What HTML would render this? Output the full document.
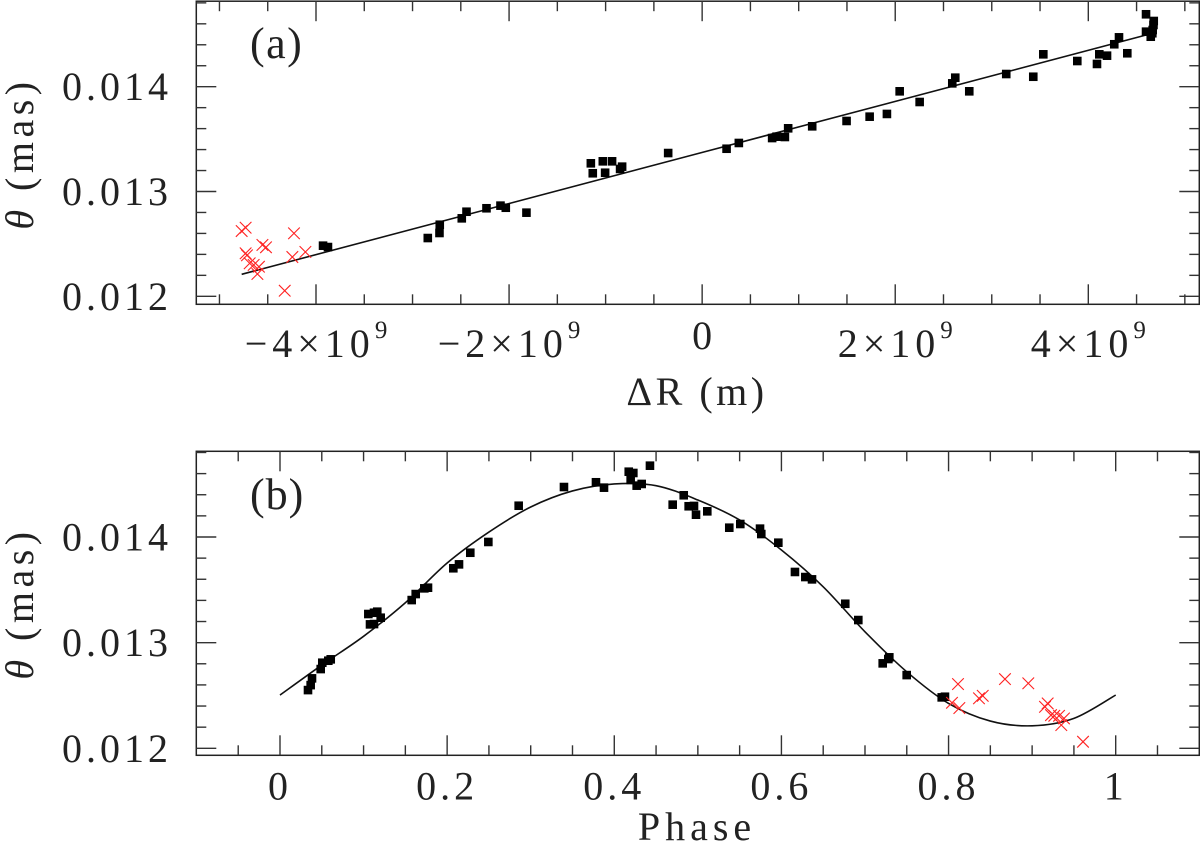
<!DOCTYPE html>
<html>
<head>
<meta charset="utf-8">
<title>Angular diameter vs radius and phase</title>
<style>
html,body{margin:0;padding:0;background:#fff;width:1200px;height:842px;overflow:hidden}
svg{display:block}
text{font-family:"Liberation Serif",serif;fill:#222}
</style>
</head>
<body>
<svg id="chart" xmlns="http://www.w3.org/2000/svg" width="1200" height="842" viewBox="0 0 1200 842">
<rect x="0" y="0" width="1200" height="842" fill="#fff"/>
<g id="panel-a"></g>
<g id="panel-b"></g>
<text x="250" y="58" font-size="44" letter-spacing="1.5">(a)</text>
<text x="250" y="509" font-size="44" letter-spacing="1">(b)</text>
<text transform="translate(33,153.5) rotate(-90)" text-anchor="middle" font-size="40" letter-spacing="4.5"><tspan font-style="italic">θ</tspan> (mas)</text>
<text transform="translate(33,603.5) rotate(-90)" text-anchor="middle" font-size="40" letter-spacing="4.5"><tspan font-style="italic">θ</tspan> (mas)</text>
<text x="697" y="405" text-anchor="middle" font-size="40" letter-spacing="3.5">ΔR (m)</text>
<text x="697" y="840" text-anchor="middle" font-size="40" letter-spacing="5">Phase</text>
</svg>
<script>
// Panel (a): radius offset in units of 1e9 m, theta in mas
const radiusGood = [-3.927,-3.876,-2.842,-2.718,-2.721,-2.490,-2.441,-2.234,-2.089,-2.034,-1.820,-1.153,-1.133,-1.029,-1.005,-0.933,-0.829,-0.850,-0.352,0.253,0.380,0.725,0.771,0.857,0.891,1.140,1.496,1.735,1.914,2.046,2.253,2.591,2.622,2.767,3.150,3.430,3.534,3.886,4.090,4.114,4.194,4.269,4.318,4.404,4.598,4.678,4.667,4.598,4.647,4.663,4.675];
const thetaGoodA = [0.012483,0.012470,0.012556,0.012683,0.012604,0.012744,0.012807,0.012840,0.012865,0.012845,0.012798,0.013269,0.013174,0.013288,0.013179,0.013288,0.013237,0.013215,0.013367,0.013408,0.013463,0.013510,0.013523,0.013520,0.013603,0.013622,0.013673,0.013714,0.013740,0.013956,0.013854,0.014032,0.014086,0.013956,0.014121,0.014095,0.014309,0.014245,0.014217,0.014309,0.014296,0.014405,0.014471,0.014319,0.014691,0.014627,0.014541,0.014525,0.014477,0.014510,0.014589];
const radiusOut = [-4.770,-4.729,-4.729,-4.715,-4.687,-4.646,-4.591,-4.607,-4.555,-4.518,-4.228,-4.245,-4.110,-4.324];
const thetaOutA = [0.012623,0.012655,0.012410,0.012391,0.012315,0.012299,0.012282,0.012213,0.012490,0.012468,0.012601,0.012375,0.012423,0.012053];
const fitRadius = [-4.77,4.598];
const fitThetaA = [0.01221,0.014493];
const xMajorA = [-4,-2,0,2,4];
const xLabelsA = ['−4×10','−2×10','0','2×10','4×10'];
const xExpA = ['9','9','','9','9'];
const yMajor = [0.012,0.013,0.014];
const yLabels = ['0.012','0.013','0.014'];

// Panel (b): phase vs theta in mas
const phaseGood = [0.0335,0.0367,0.0383,0.0487,0.0506,0.0578,0.0607,0.1057,0.1077,0.1125,0.1125,0.1164,0.1205,0.1576,0.1624,0.1727,0.1771,0.2074,0.2142,0.2277,0.2493,0.2856,0.3398,0.3781,0.3877,0.4173,0.4228,0.4196,0.4268,0.4328,0.4427,0.4699,0.4831,0.4890,0.4954,0.4978,0.5113,0.5376,0.5508,0.5744,0.5759,0.5963,0.6162,0.6286,0.6366,0.6764,0.6920,0.7212,0.7279,0.7291,0.7499,0.7918,0.7957];
const thetaGoodB = [0.012551,0.012598,0.012662,0.012750,0.012810,0.012829,0.012842,0.013271,0.013173,0.013283,0.013176,0.013293,0.013236,0.013403,0.013460,0.013514,0.013520,0.013704,0.013741,0.013851,0.013953,0.014296,0.014473,0.014518,0.014467,0.014618,0.014606,0.014540,0.014486,0.014502,0.014675,0.014306,0.014395,0.014291,0.014294,0.014211,0.014243,0.014088,0.014123,0.014079,0.014028,0.013946,0.013669,0.013621,0.013599,0.013368,0.013214,0.012804,0.012845,0.012861,0.012693,0.012482,0.012488];
const phaseOut = [0.8113,0.8041,0.8129,0.8364,0.8409,0.8675,0.8954,0.9154,0.9186,0.9226,0.9265,0.9322,0.9381,0.9349,0.9609];
const thetaOutB = [0.012608,0.012431,0.012381,0.012473,0.012497,0.012655,0.012615,0.012393,0.012425,0.012314,0.012308,0.012308,0.012283,0.012220,0.012062];
const fitPhase = [0,0.05,0.1,0.15,0.2,0.25,0.3,0.35,0.4,0.45,0.5,0.55,0.6,0.65,0.7,0.75,0.8,0.85,0.9,0.95,1];
const fitThetaB = [0.012504,0.012788,0.013060,0.013378,0.013754,0.014047,0.014284,0.014436,0.014502,0.014486,0.014350,0.014161,0.013877,0.013529,0.013103,0.012724,0.012425,0.012258,0.012213,0.012283,0.012504];
const xMajorB = [0,0.2,0.4,0.6,0.8,1];
const xLabelsB = ['0','0.2','0.4','0.6','0.8','1'];

const NS = 'http://www.w3.org/2000/svg';
const INK = '#222';
const make = (tag) => document.createElementNS(NS, tag);
const linear = (d0, d1, r0, r1) => (v) => r0 + (v - d0) * (r1 - r0) / (d1 - d0);

const boxA = {left: 196.3, right: 1199.3, top: 1.2, bottom: 304.3};
const boxB = {left: 196.3, right: 1199.3, top: 451.3, bottom: 755.3};
const sxA = linear(-4, 4, 316, 1088.3);
const syA = linear(0.012, 0.014, 296.3, 86.7);
const sxB = linear(0, 1, 280, 1115.7);
const syB = linear(0.012, 0.014, 748.3, 537);

function drawFrame(layer, box) {
  const el = make('rect');
  
  
  el.setAttribute('x', box.left);
  el.setAttribute('y', box.top);
  el.setAttribute('width', box.right - box.left);
  el.setAttribute('height', box.bottom - box.top);
  el.setAttribute('fill', 'none');
  el.setAttribute('stroke', INK);
  el.setAttribute('stroke-width', '1.5');
  layer.appendChild(el);
}

function drawXTick(layer, box, x, len) {
  [[box.bottom, box.bottom - len], [box.top, box.top + len]].forEach(([a, b]) => {
    const el = make('line');
    
    
    el.setAttribute('x1', x);
    el.setAttribute('x2', x);
    el.setAttribute('y1', a);
    el.setAttribute('y2', b);
    el.setAttribute('stroke', '#333');
    el.setAttribute('stroke-width', '1.4');
    layer.appendChild(el);
  });
}

function drawYTick(layer, box, y, len) {
  [[box.left, box.left + len], [box.right, box.right - len]].forEach(([a, b]) => {
    const el = make('line');
    
    
    el.setAttribute('x1', a);
    el.setAttribute('x2', b);
    el.setAttribute('y1', y);
    el.setAttribute('y2', y);
    el.setAttribute('stroke', '#333');
    el.setAttribute('stroke-width', '1.4');
    layer.appendChild(el);
  });
}

function drawYLabels(layer, sy) {
  yMajor.forEach((v, i) => {
    const el = make('text');
    
    
    el.setAttribute('x', 172);
    el.setAttribute('y', sy(v) + 13.5);
    el.setAttribute('text-anchor', 'end');
    el.setAttribute('font-size', '40');
    el.setAttribute('letter-spacing', '4');
    el.textContent = yLabels[i];
    layer.appendChild(el);
  });
}

function drawAxes(layer, box, sx, sy, xMajor, xStep) {
  drawFrame(layer, box);
  for (let k = -40; k <= 40; k++) {
    const v = k * xStep;
    const x = sx(v);
    if (x <= box.left + 1 || x >= box.right - 1) continue;
    const major = xMajor.some((m) => Math.abs(m - v) < 1e-9);
    drawXTick(layer, box, x, major ? 20 : 10);
  }
  for (let k = 58; k <= 75; k++) {
    const v = k * 0.0002;
    const y = sy(v);
    if (y <= box.top - 0.5 || y >= box.bottom) continue;
    const major = yMajor.some((m) => Math.abs(m - v) < 1e-9);
    drawYTick(layer, box, y, major ? 20 : 10);
  }
  drawYLabels(layer, sy);
}

function drawSquares(layer, sx, sy, xs, ys) {
  xs.forEach((v, i) => {
    const el = make('rect');
    
    
    el.setAttribute('x', sx(v) - 4.3);
    el.setAttribute('y', sy(ys[i]) - 4.3);
    el.setAttribute('width', 8.6);
    el.setAttribute('height', 8.6);
    el.setAttribute('fill', '#000');
    layer.appendChild(el);
  });
}

function drawCrosses(layer, sx, sy, xs, ys) {
  xs.forEach((v, i) => {
    const cx = sx(v), cy = sy(ys[i]), r = 5.8;
    const el = make('path');
    
    
    el.setAttribute('d', `M${cx - r} ${cy - r}L${cx + r} ${cy + r}M${cx - r} ${cy + r}L${cx + r} ${cy - r}`);
    el.setAttribute('stroke', '#f22');
    el.setAttribute('stroke-width', '1.1');
    el.setAttribute('fill', 'none');
    layer.appendChild(el);
  });
}

function drawCurve(layer, sx, sy, xs, ys) {
  const pts = xs.map((v, i) => [sx(v), sy(ys[i])]);
  let d = `M${pts[0][0]} ${pts[0][1]}`;
  for (let i = 0; i < pts.length - 1; i++) {
    const p0 = pts[Math.max(i - 1, 0)], p1 = pts[i], p2 = pts[i + 1], p3 = pts[Math.min(i + 2, pts.length - 1)];
    const c1x = p1[0] + (p2[0] - p0[0]) / 6, c1y = p1[1] + (p2[1] - p0[1]) / 6;
    const c2x = p2[0] - (p3[0] - p1[0]) / 6, c2y = p2[1] - (p3[1] - p1[1]) / 6;
    d += `C${c1x} ${c1y} ${c2x} ${c2y} ${p2[0]} ${p2[1]}`;
  }
  const el = make('path');
  
  
  el.setAttribute('d', d);
  el.setAttribute('fill', 'none');
  el.setAttribute('stroke', '#111');
  el.setAttribute('stroke-width', '1.6');
  layer.appendChild(el);
}

const panelA = document.getElementById('panel-a');
const panelB = document.getElementById('panel-b');

drawAxes(panelA, boxA, sxA, syA, xMajorA, 0.5);
drawAxes(panelB, boxB, sxB, syB, xMajorB, 0.05);

xMajorA.forEach((v, i) => {
  const el = make('text');
  
  
  el.setAttribute('x', sxA(v));
  el.setAttribute('y', xExpA[i] ? 357 : 349);
  el.setAttribute('text-anchor', 'middle');
  el.setAttribute('font-size', '40');
  el.setAttribute('letter-spacing', xExpA[i] ? '5' : '0');
  el.appendChild(document.createTextNode(xLabelsA[i]));
  if (xExpA[i]) {
    const sup = make('tspan');
    sup.setAttribute('font-size', '25');
    sup.setAttribute('dy', '-19');
    sup.setAttribute('letter-spacing', '0');
    sup.textContent = xExpA[i];
    el.appendChild(sup);
  }
  panelA.appendChild(el);
});

xMajorB.forEach((v, i) => {
  const el = make('text');
  
  
  el.setAttribute('x', sxB(v));
  el.setAttribute('y', 799.5);
  el.setAttribute('text-anchor', 'middle');
  el.setAttribute('font-size', '40');
  el.setAttribute('letter-spacing', '4');
  el.textContent = xLabelsB[i];
  panelB.appendChild(el);
});

drawCurve(panelA, sxA, syA, fitRadius, fitThetaA);
drawSquares(panelA, sxA, syA, radiusGood, thetaGoodA);
drawCrosses(panelA, sxA, syA, radiusOut, thetaOutA);

drawCurve(panelB, sxB, syB, fitPhase, fitThetaB);
drawSquares(panelB, sxB, syB, phaseGood, thetaGoodB);
drawCrosses(panelB, sxB, syB, phaseOut, thetaOutB);
</script>
</body>
</html>
